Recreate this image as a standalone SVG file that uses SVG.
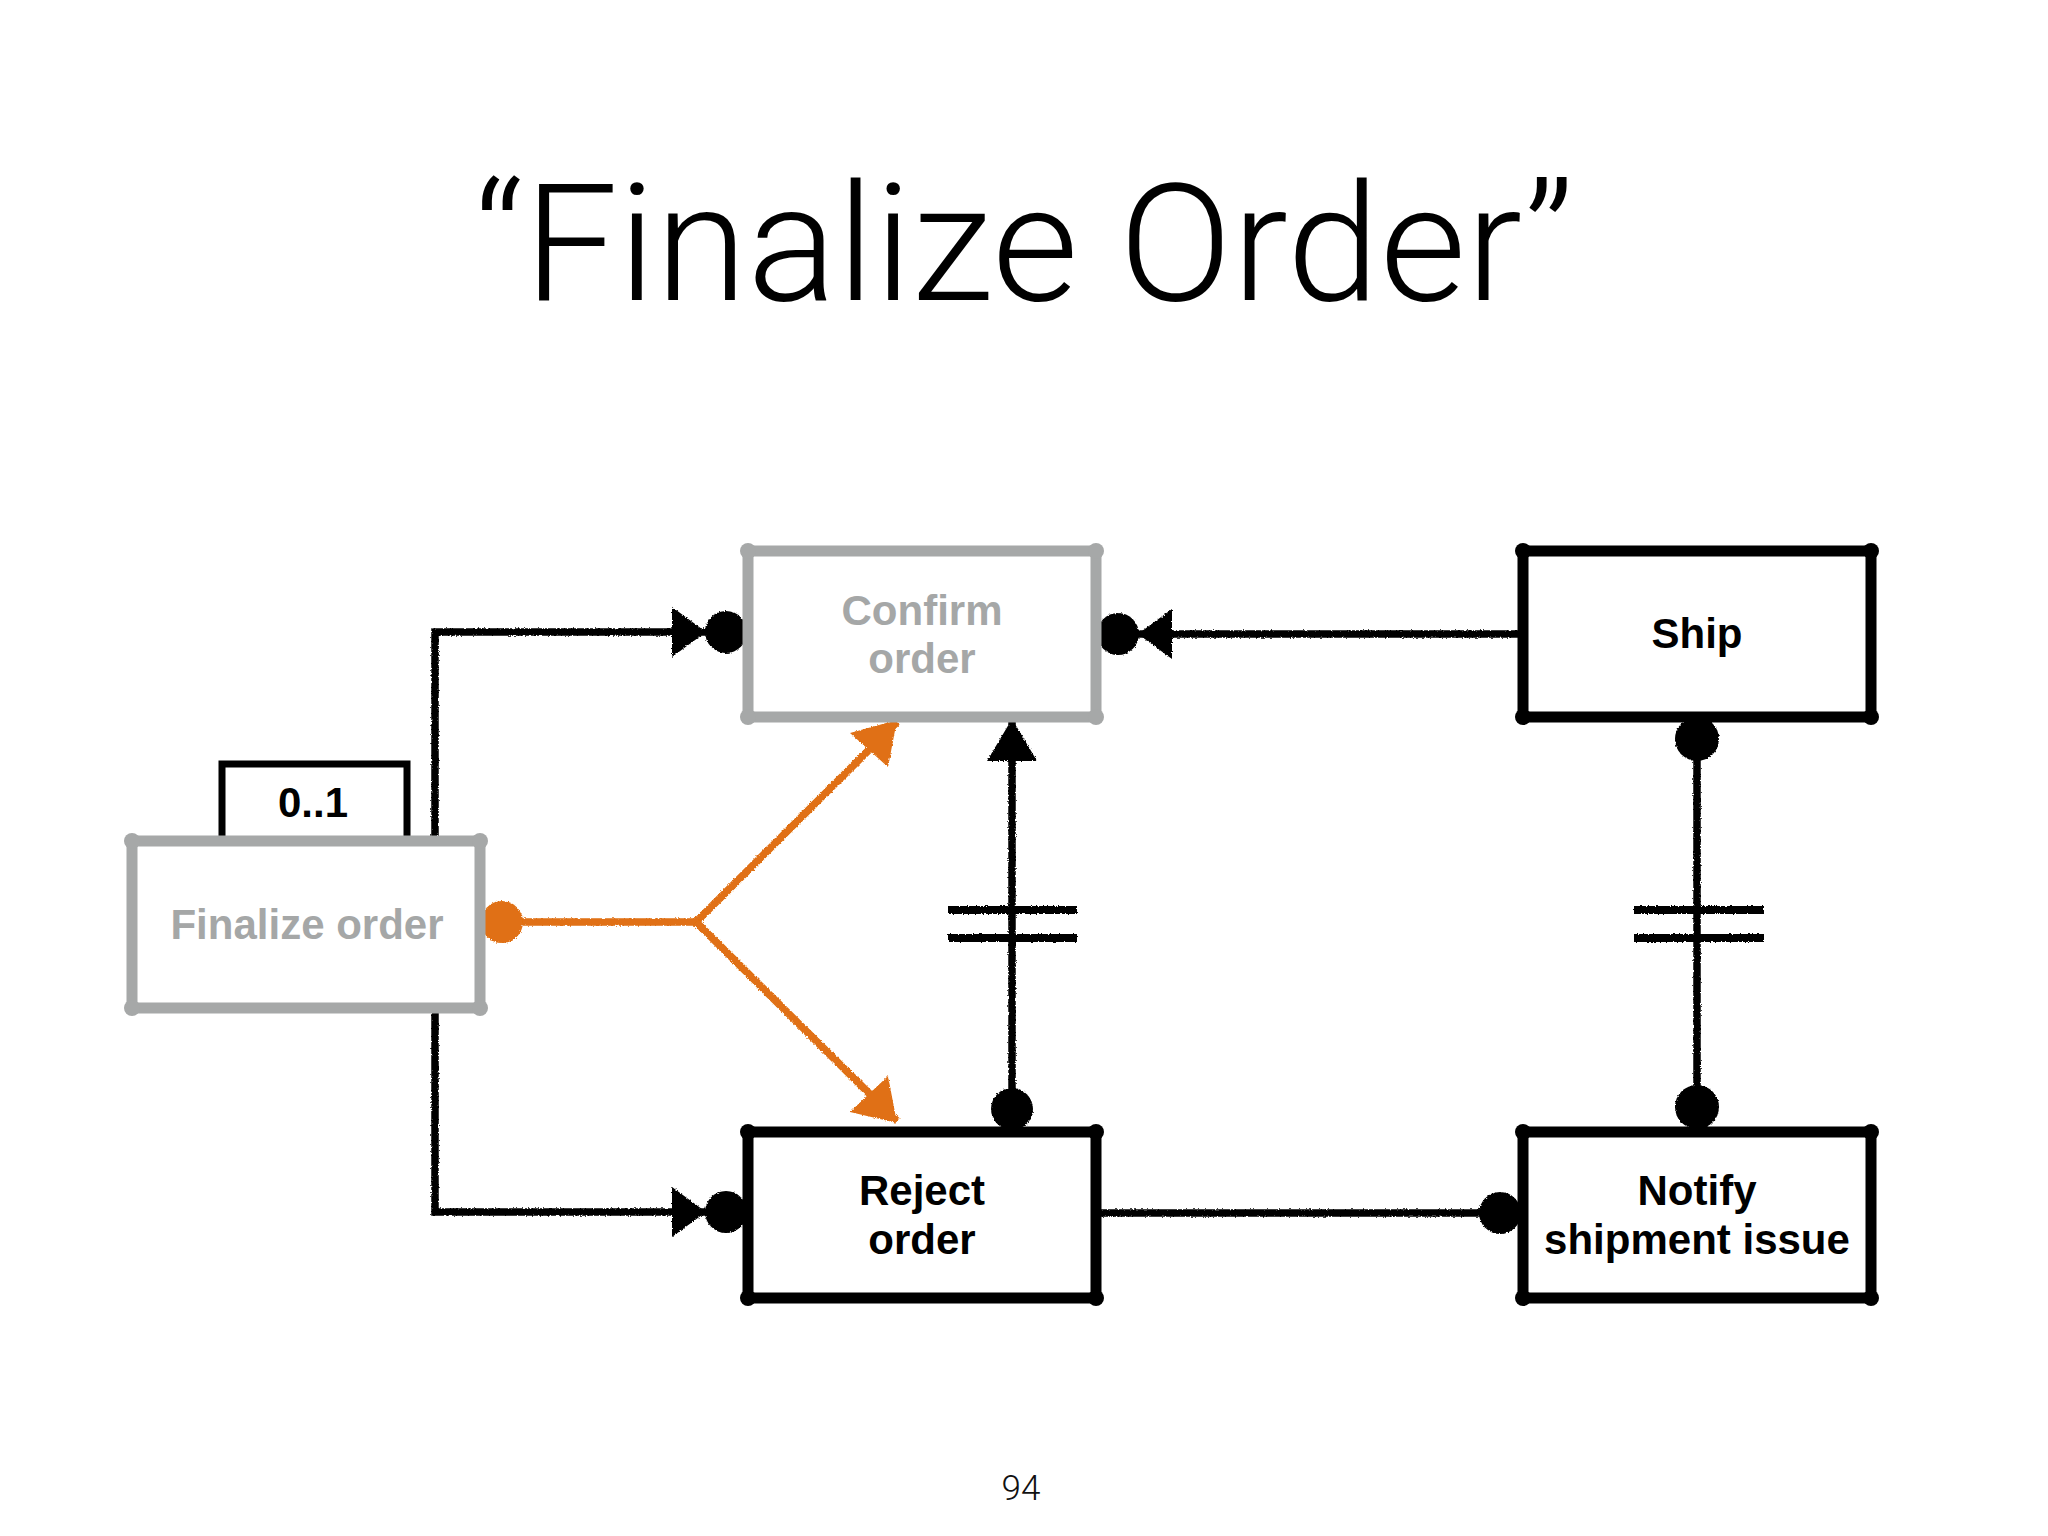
<svg xmlns="http://www.w3.org/2000/svg" width="2048" height="1536" viewBox="0 0 2048 1536">
<style>
.title{font-family:Roboto,"Liberation Sans",Arial,sans-serif;font-weight:300;font-size:163px;fill:#000}
.pg{font-family:Roboto,"Liberation Sans",Arial,sans-serif;font-weight:300;font-size:35px;fill:#111}
.lbl{font-family:"Liberation Sans",Arial,sans-serif;font-weight:bold;font-size:42px;text-anchor:middle}
.lbl.k{fill:#000}
.lbl.g{fill:#a5a7a7}
.box{fill:#fff;stroke-width:11;stroke-linejoin:round}
.box.k{stroke:#000}
.box.g{stroke:#a6a8a8}
.knob.k{fill:#000}
.knob.g{fill:#a6a8a8}
.wire{fill:none;stroke:#000;stroke-width:7.5;stroke-linejoin:miter}
.owire{fill:none;stroke:#e06f12;stroke-width:7.5}
.bar{stroke:#000;stroke-width:8}
.dot{fill:#000}
.odot{fill:#e06f12}
</style>
<defs>
<filter id="rough" x="-5%" y="-5%" width="110%" height="110%">
<feTurbulence type="fractalNoise" baseFrequency="0.6" numOctaves="2" seed="3" result="n"/>
<feDisplacementMap in="SourceGraphic" in2="n" scale="3" xChannelSelector="R" yChannelSelector="G"/>
</filter>
<marker id="arrowDot" markerUnits="userSpaceOnUse" viewBox="-80 -30 80 60" refX="0" refY="0" markerWidth="80" markerHeight="60" orient="auto">
<polygon points="-75,-25 -41,0 -75,25" fill="#000"/>
<circle cx="-21" cy="0" r="21" fill="#000"/>
</marker>
<marker id="tri" markerUnits="userSpaceOnUse" viewBox="-50 -30 50 60" refX="0" refY="0" markerWidth="50" markerHeight="60" orient="auto">
<polygon points="-42,-25 0,0 -42,25" fill="#000"/>
</marker>
</defs>
<rect width="2048" height="1536" fill="#fff"/>

<text class="title" x="474" y="300" textLength="1100" lengthAdjust="spacingAndGlyphs">“Finalize Order”</text>

<g id="connectors" filter="url(#rough)">
<path class="wire" d="M435,836 V632 H747" marker-end="url(#arrowDot)"/>
<path class="wire" d="M435,1010 V1212 H747" marker-end="url(#arrowDot)"/>
<path class="wire" d="M1522,634 H1097" marker-end="url(#arrowDot)"/>
<path class="wire" d="M1012,1110 V719" marker-end="url(#tri)"/>
<circle class="dot" cx="1012" cy="1109" r="21"/>
<line class="bar" x1="948" y1="910" x2="1077" y2="910"/>
<line class="bar" x1="948" y1="938" x2="1077" y2="938"/>
<path class="wire" d="M1697,739 V1107"/>
<circle class="dot" cx="1697" cy="739" r="22"/>
<circle class="dot" cx="1697" cy="1107" r="22"/>
<line class="bar" x1="1634" y1="910" x2="1764" y2="910"/>
<line class="bar" x1="1634" y1="938" x2="1764" y2="938"/>
<path class="wire" d="M1097,1213 H1490"/>
<circle class="dot" cx="1500" cy="1213" r="21"/>
<path class="owire" d="M502,922 H696 L897,722"/>
<path class="owire" d="M696,922 L897,1121"/>
<polygon points="850,733 897,720 888,767" fill="#e06f12"/>
<polygon points="888,1076 897,1123 850,1112" fill="#e06f12"/>
<circle class="odot" cx="502" cy="922" r="21"/>
</g>

<g id="node-confirm">
<rect class="box g" x="748" y="551" width="348" height="166" rx="3"/>
<circle class="knob g" cx="748" cy="551" r="8"/><circle class="knob g" cx="1096" cy="551" r="8"/>
<circle class="knob g" cx="748" cy="717" r="8"/><circle class="knob g" cx="1096" cy="717" r="8"/>
<text class="lbl g" x="922" y="625">Confirm</text>
<text class="lbl g" x="922" y="673">order</text>
</g>

<g id="node-ship">
<rect class="box k" x="1523" y="551" width="348" height="166" rx="3"/>
<circle class="knob k" cx="1523" cy="551" r="8"/><circle class="knob k" cx="1871" cy="551" r="8"/>
<circle class="knob k" cx="1523" cy="717" r="8"/><circle class="knob k" cx="1871" cy="717" r="8"/>
<text class="lbl k" x="1697" y="648">Ship</text>
</g>

<g id="node-multiplicity">
<rect x="222" y="764" width="185" height="80" fill="#fff" stroke="#000" stroke-width="7"/>
<text class="lbl k" x="313" y="817">0..1</text>
</g>

<g id="node-finalize">
<rect class="box g" x="132" y="841" width="348" height="167" rx="3"/>
<circle class="knob g" cx="132" cy="841" r="8"/><circle class="knob g" cx="480" cy="841" r="8"/>
<circle class="knob g" cx="132" cy="1008" r="8"/><circle class="knob g" cx="480" cy="1008" r="8"/>
<text class="lbl g" x="307" y="939">Finalize order</text>
</g>

<g id="node-reject">
<rect class="box k" x="748" y="1132" width="348" height="166" rx="3"/>
<circle class="knob k" cx="748" cy="1132" r="8"/><circle class="knob k" cx="1096" cy="1132" r="8"/>
<circle class="knob k" cx="748" cy="1298" r="8"/><circle class="knob k" cx="1096" cy="1298" r="8"/>
<text class="lbl k" x="922" y="1205">Reject</text>
<text class="lbl k" x="922" y="1254">order</text>
</g>

<g id="node-notify">
<rect class="box k" x="1523" y="1132" width="348" height="166" rx="3"/>
<circle class="knob k" cx="1523" cy="1132" r="8"/><circle class="knob k" cx="1871" cy="1132" r="8"/>
<circle class="knob k" cx="1523" cy="1298" r="8"/><circle class="knob k" cx="1871" cy="1298" r="8"/>
<text class="lbl k" x="1697" y="1205">Notify</text>
<text class="lbl k" x="1697" y="1254">shipment issue</text>
</g>

<text class="pg" x="1021" y="1500" text-anchor="middle">94</text>
</svg>
